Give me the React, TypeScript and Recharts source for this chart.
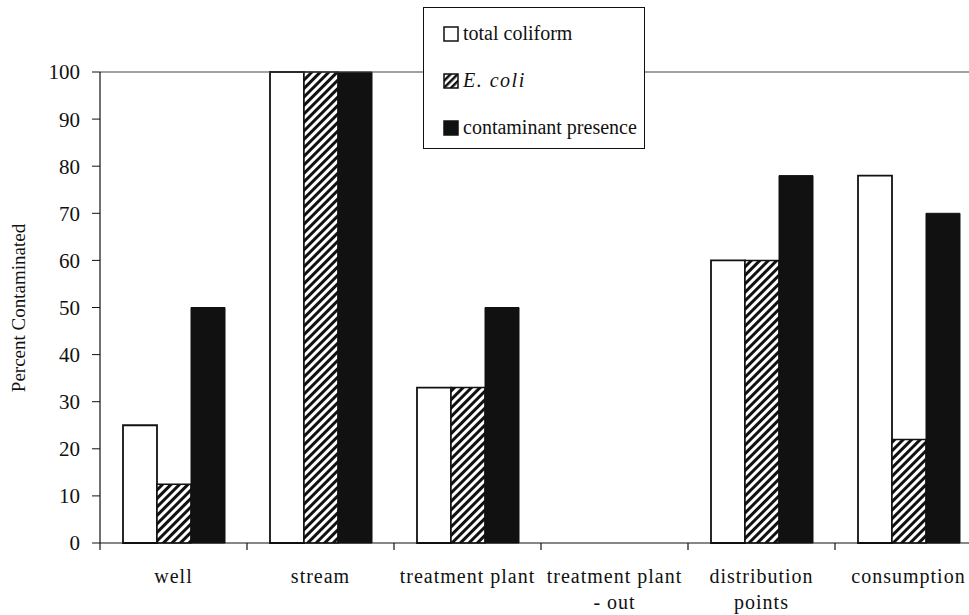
import React from 'react';
import { BarChart, Bar, XAxis, YAxis, Legend, ReferenceLine } from 'recharts';

const categories = ['well', 'stream', 'treatment plant', 'treatment plant - out', 'distribution points', 'consumption'];
const tickLines = [['well'], ['stream'], ['treatment plant'], ['treatment plant', '- out'], ['distribution', 'points'], ['consumption']];
const totalColiform = [25, 100, 33, 0, 60, 78];
const eColi = [12.5, 100, 33, 0, 60, 22];
const contaminantPresence = [50, 100, 50, 0, 78, 70];
const yTicks = [0, 10, 20, 30, 40, 50, 60, 70, 80, 90, 100];

const data = categories.map((name, i) => ({
    name,
    total: totalColiform[i],
    ecoli: eColi[i],
    presence: contaminantPresence[i],
}));

const FONT = "'Liberation Serif', Tinos, 'DejaVu Serif', 'Noto Serif', serif";
const INK = '#111';

// ticks sit on the category boundaries, not at the centres
function CategoryTick(props: any) {
    const { x, y, index, width } = props;
    const half = (width || 882) / categories.length / 2;
    const lines = tickLines[index] || [];
    return (
        <g>
            <line x1={x - half} y1={y - 8} x2={x - half} y2={y - 1} stroke={INK} strokeWidth={1.2} />
            {index === categories.length - 1 && (
                <line x1={x + half} y1={y - 8} x2={x + half} y2={y - 1} stroke={INK} strokeWidth={1.2} />
            )}
            {lines.map((t: string, k: number) => (
                <text key={k} x={x} y={y + 32 + k * 26} textAnchor="middle" fill={INK}
                    fontFamily={FONT} fontSize={20} letterSpacing={1}>
                    {t}
                </text>
            ))}
        </g>
    );
}

function Swatch({ kind }: { kind: string }) {
    return (
        <svg width={16} height={16} style={{ display: 'block', flexShrink: 0 }}>
            <defs>
                <pattern id="hatchSmall" width={5} height={5} patternUnits="userSpaceOnUse" patternTransform="rotate(45)">
                    <rect x={0} y={0} width={2.5} height={5} fill={INK} />
                </pattern>
            </defs>
            <rect x={1} y={1} width={14} height={14}
                fill={kind === 'total' ? '#fff' : kind === 'ecoli' ? 'url(#hatchSmall)' : INK}
                stroke={INK} strokeWidth={1.5} />
        </svg>
    );
}

const legendItems = [
    { key: 'total', label: 'total coliform', italic: false },
    { key: 'ecoli', label: 'E. coli', italic: true },
    { key: 'presence', label: 'contaminant presence', italic: false },
];

function LegendBox() {
    return (
        <div style={{
            width: 222, height: 142, boxSizing: 'border-box', border: `1px solid ${INK}`,
            background: '#fff', paddingTop: 2, paddingLeft: 19, fontFamily: FONT,
        }}>
            {legendItems.map((it) => (
                <div key={it.key} style={{ height: 47, display: 'flex', alignItems: 'center' }}>
                    <Swatch kind={it.key} />
                    <span style={{
                        marginLeft: 4, fontSize: 20, letterSpacing: it.italic ? 1.5 : 0, color: INK,
                        fontStyle: it.italic ? 'italic' : 'normal', whiteSpace: 'nowrap',
                    }}>{it.label}</span>
                </div>
            ))}
        </div>
    );
}

export default function App() {
    return (
        <div style={{ position: 'absolute', left: 0, top: 0, width: 969, height: 615, overflow: 'hidden', background: '#fff' }}>
            <BarChart width={990} height={615} data={data}
                margin={{ top: 72, right: 8, left: 0, bottom: 0 }}
                barCategoryGap={23} barGap={0}>
                <defs>
                    <pattern id="hatch" width={6} height={6} patternUnits="userSpaceOnUse" patternTransform="rotate(45)">
                        <rect x={0} y={0} width={6} height={6} fill="#fff" />
                        <rect x={0} y={0} width={3} height={6} fill={INK} />
                    </pattern>
                </defs>
                <ReferenceLine y={100} stroke="#444" strokeWidth={1.2} />
                <XAxis dataKey="name" height={72} interval={0} tickLine={false}
                    axisLine={{ stroke: INK, strokeWidth: 1.2 }} tick={<CategoryTick />} />
                <YAxis width={100} domain={[0, 100]} ticks={yTicks} interval={0}
                    tickSize={8} tickMargin={12}
                    axisLine={{ stroke: INK, strokeWidth: 1.2 }} tickLine={{ stroke: INK }}
                    tick={{ fill: INK, fontFamily: FONT, fontSize: 21 }}
                    label={{
                        content: () => (
                            <text transform="translate(18,308) rotate(-90)" textAnchor="middle"
                                dominantBaseline="central" fill={INK}
                                fontFamily={FONT} fontSize={19}>
                                Percent Contaminated
                            </text>
                        ),
                    }} />
                <Legend layout="vertical" align="center" verticalAlign="middle"
                    wrapperStyle={{ top: 7, left: 423, width: 'auto', height: 'auto' }}
                    content={() => <LegendBox />} />
                <Bar dataKey="total" name="total coliform" fill="#fff" stroke={INK} strokeWidth={1.8} isAnimationActive={false} />
                <Bar dataKey="ecoli" name="E. coli" fill="url(#hatch)" stroke={INK} strokeWidth={1.5} isAnimationActive={false} />
                <Bar dataKey="presence" name="contaminant presence" fill={INK} stroke={INK} strokeWidth={1} isAnimationActive={false} />
            </BarChart>
        </div>
    );
}
